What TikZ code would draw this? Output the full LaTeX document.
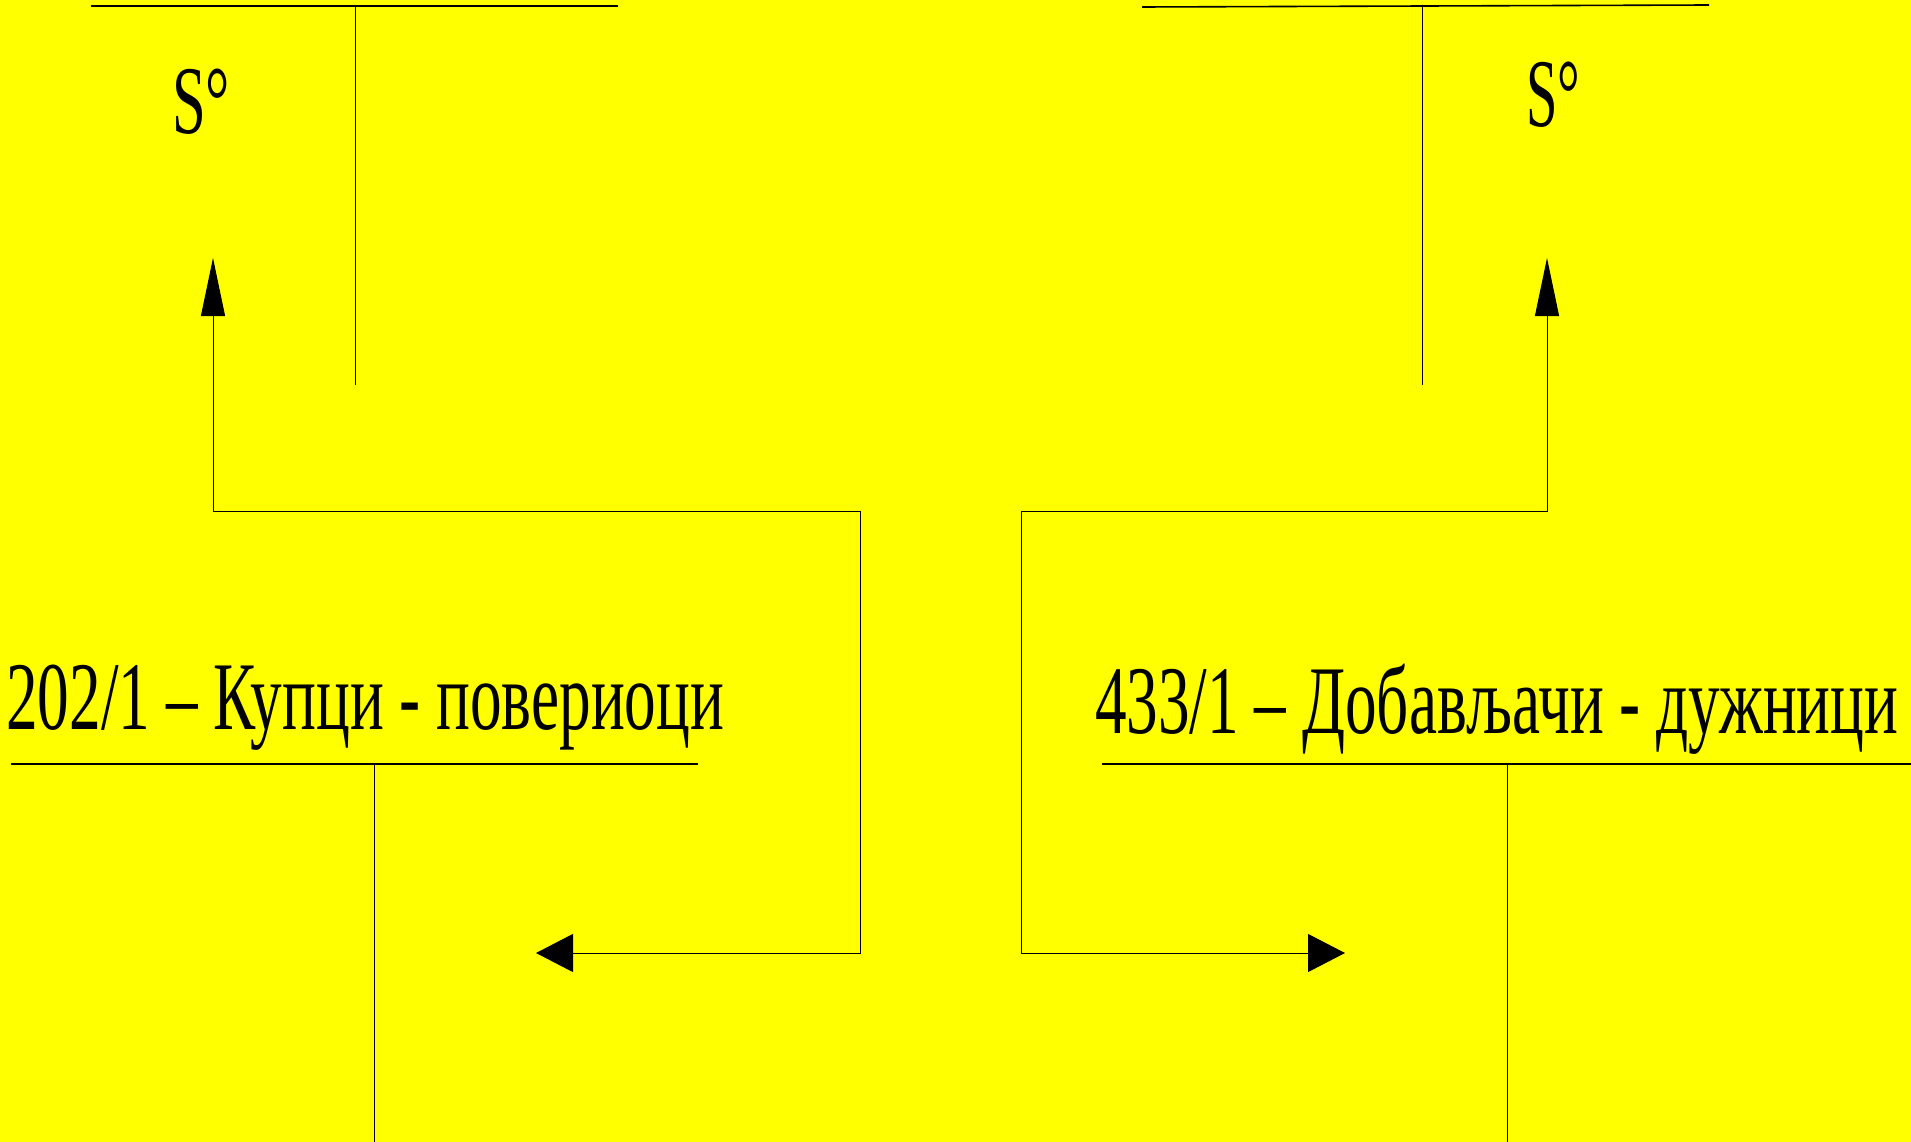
\documentclass[tikz,border=0pt]{standalone}
\usepackage{fontspec}
\setmainfont{Liberation Serif}
\usepackage{graphicx}
\usepackage{tikz}
\usetikzlibrary{arrows.meta}
\definecolor{sheetyellow}{HTML}{FFFF00}
\newcommand{\acctsize}{\fontsize{97}{100}\selectfont}
\newcommand{\fitwidth}[2]{\resizebox{#1}{\height}{#2}}

\begin{document}
\begin{tikzpicture}[x=1pt,y=-1pt,
  tbar/.style={line width=1.6pt},
  tstem/.style={line width=1pt},
  flow/.style={line width=1pt},
  bothtips/.style={{Triangle[length=58pt,width=24pt]}-{Triangle[length=37pt,width=38pt]}},
  acct/.style={inner sep=0pt,anchor=base west,font=\acctsize}]
  \fill[sheetyellow] (0,0) rectangle (1911,1142);
  \useasboundingbox (0,0) rectangle (1911,1142);
  % upper T-accounts
  \coordinate (lbarL) at (91,6);   \coordinate (lbarR) at (618,6);
  \coordinate (lstemT) at (355,6); \coordinate (lstemB) at (355,385);
  \coordinate (rbarL) at (1142,7); \coordinate (rbarR) at (1709,5);
  \coordinate (rstemT) at (1422,7); \coordinate (rstemB) at (1422,385);
  \draw[tbar] (lbarL) -- (lbarR); \draw[tstem] (lstemT) -- (lstemB);
  \draw[tbar] (rbarL) -- (rbarR); \draw[tstem] (rstemT) -- (rstemB);
  \node[acct] (lsaldo) at (172,134) {\fitwidth{58pt}{S°}};
  \node[acct] (rsaldo) at (1526,127) {\fitwidth{54pt}{S°}};
  % account titles
  \node[acct] (kupci) at (6,729) {\fitwidth{718pt}{202/1 – Купци - повериоци}};
  \node[acct] (dobav) at (1095,733) {\fitwidth{803pt}{433/1 – Добављачи - дужници}};
  % lower T-accounts
  \coordinate (kbarL) at (11,764);  \coordinate (kbarR) at (698,764);
  \coordinate (kstemT) at (374,764); \coordinate (kstemB) at (374,1142);
  \coordinate (dbarL) at (1102,764); \coordinate (dbarR) at (1911,764);
  \coordinate (dstemT) at (1507,764); \coordinate (dstemB) at (1507,1142);
  \draw[tbar] (kbarL) -- (kbarR); \draw[tstem] (kstemT) -- (kstemB);
  \draw[tbar] (dbarL) -- (dbarR); \draw[tstem] (dstemT) -- (dstemB);
  % transfer arrows
  \coordinate (lup) at (213,258);   \coordinate (lknee) at (860,511);
  \coordinate (lend) at (536,953);
  \coordinate (rup) at (1547,258);  \coordinate (rknee) at (1021,511);
  \coordinate (rend) at (1345,953);
  \draw[flow,bothtips] (lup) |- (lknee) |- (lend);
  \draw[flow,bothtips] (rup) |- (rknee) |- (rend);
\end{tikzpicture}
\end{document}
